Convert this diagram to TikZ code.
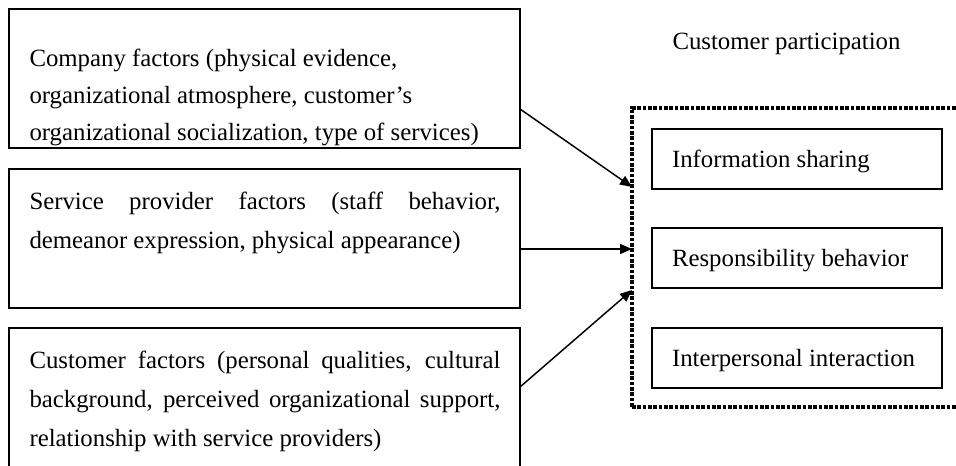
\documentclass[tikz,border=0pt]{standalone}
\usepackage{fontspec}
\setmainfont{Liberation Serif}
\usetikzlibrary{arrows.meta}

\tikzset{every picture/.style={line width=0.75pt}}

\begin{document}
\begin{tikzpicture}[x=0.75pt,y=0.75pt,yscale=-1,xscale=1,
  every node/.append style={execute at begin node={\spaceskip=0pt\xspaceskip=0pt}},
  factorbox/.style={draw, line width=1.5pt, anchor=north west, inner sep=0pt, outer sep=0pt,
    minimum width=383.25pt, minimum height=104.25pt},
  factortext/.style={anchor=base west, inner sep=0pt, text width=353.25pt, align=left,
    font={\fontsize{18.6pt}{29.6pt}\selectfont}},
  partbox/.style={draw, line width=1.5pt, anchor=north west, outer sep=0pt, inner xsep=15pt, inner ysep=0pt,
    minimum height=45pt, text width=187.5pt, align=left, text height=12.75pt, text depth=0pt,
    font={\fontsize{18.6pt}{22pt}\selectfont}},
  partframe/.style={draw, line width=2.6pt, dash pattern=on 2.8pt off 1.2pt, anchor=north west,
    inner sep=0pt, outer sep=0pt, minimum width=257.25pt, minimum height=224.25pt},
  flow/.style={-{Triangle[length=9pt,width=7.5pt]}, line width=1.1pt}
]
\useasboundingbox (0,0) rectangle (956,465);
\clip (0,0) rectangle (956,465);

%Shape: Rectangle [id:company]
\node[factorbox] (company) at (9,9) {};
%Shape: Rectangle [id:service]
\node[factorbox] (service) at (9,169) {};
%Shape: Rectangle [id:customer]
\node[factorbox, minimum height=112.5pt] (customer) at (9,328) {};

% Text Node
\node[factortext, font={\fontsize{18.6pt}{28pt}\selectfont}] (companytext) at (29,66)
  {Company factors (physical evidence,\\ organizational atmosphere, customer’s\\ organizational socialization, type of services)};
% Text Node
\node[factortext] (servicetext) at (29,209)
  {\makebox[353.25pt][s]{Service provider factors (staff behavior,}\\ demeanor expression, physical appearance)};
% Text Node
\node[factortext] (customertext) at (29,368)
  {\makebox[353.25pt][s]{Customer factors (personal qualities, cultural}\\
   \makebox[353.25pt][s]{background, perceived organizational support,}\\ relationship with service providers)};

%Shape: Dotted frame [id:part]
\node[partframe] (part) at (632,108) {};
% Text Node
\node[anchor=base west, inner sep=0pt, font={\fontsize{18.6pt}{22pt}\selectfont}] (parttitle) at (672,49) {Customer participation};

%Shape: Rectangle [id:info]
\node[partbox] (info) at (652,129) {Information sharing};
%Shape: Rectangle [id:resp]
\node[partbox] (resp) at (652,228) {Responsibility behavior};
%Shape: Rectangle [id:inter]
\node[partbox] (inter) at (652,328) {Interpersonal interaction};

%Straight Lines
\draw[flow] (company.east |- 0,109) -- (part.west |- 0,187);
\draw[flow] (service.east |- 0,249) -- (part.west |- 0,249);
\draw[flow] (customer.east |- 0,387) -- (part.west |- 0,290);

\end{tikzpicture}
\end{document}
